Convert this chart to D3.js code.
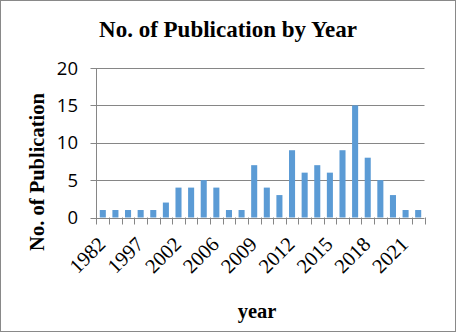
<!DOCTYPE html>
<html>
<head>
<meta charset="utf-8">
<script src="https://cdn.jsdelivr.net/npm/d3@7"></script>
<style>
  body { margin: 0; background: #fff; }
</style>
</head>
<body>
<div id="chart"></div>
<script>
let w = 456;
let h = 333;

// data
const years = ["1982", "1987", "1993", "1997", "1999", "2000", "2002", "2003", "2005", "2006",
  "2007", "2008", "2009", "2010", "2011", "2012", "2013", "2014", "2015", "2016",
  "2017", "2018", "2019", "2020", "2021", "2022"];
const counts = [1, 1, 1, 1, 1, 2, 4, 4, 5, 4, 1, 1, 7, 4, 3, 9, 6, 7, 6, 9, 15, 8, 5, 3, 1, 1];
const yTicks = [0, 5, 10, 15, 20];
const shownYears = ["1982", "1997", "2002", "2006", "2009", "2012", "2015", "2018", "2021"];

const margin = { left: 96.5, right: 424.5, top: 68, bottom: 217.5 };

var svg = d3.select("#chart").append("svg").attr("width", w).attr("height", h);

// chart border
svg.append("rect")
  .attr("x", 0.5).attr("y", 0.5)
  .attr("width", w - 1).attr("height", 331)
  .attr("fill", "#fff")
  .attr("stroke", "#898989");

var x = d3.scaleBand().domain(years).range([margin.left, margin.right]).paddingInner(0.52).paddingOuter(0.26);
var y = d3.scaleLinear().domain([0, 20]).range([margin.bottom, margin.top]);

// gridlines
svg.append("g")
  .selectAll("line")
  .data(yTicks)
  .enter()
  .append("line")
  .attr("x1", margin.left - 6)
  .attr("x2", margin.right)
  .attr("y1", d => Math.round(y(d)) + 0.5)
  .attr("y2", d => Math.round(y(d)) + 0.5)
  .attr("stroke", "#868686")
  .attr("stroke-width", 1);

// bars
svg.append("g")
  .selectAll("rect")
  .data(counts)
  .enter()
  .append("rect")
  .attr("x", (d, i) => x(years[i]))
  .attr("width", x.bandwidth())
  .attr("y", d => y(d))
  .attr("height", d => y(0) - y(d))
  .attr("fill", "#5B9BD5");

// y axis line
svg.append("line")
  .attr("x1", margin.left).attr("x2", margin.left)
  .attr("y1", margin.top).attr("y2", margin.bottom + 7)
  .attr("stroke", "#868686");

// x tick marks between categories
const step = x.step();
svg.append("g")
  .selectAll("line")
  .data(years.slice(1).concat(["end"]))
  .enter()
  .append("line")
  .attr("x1", (d, i) => Math.round(margin.left + step * (i + 1)) + 0.5)
  .attr("x2", (d, i) => Math.round(margin.left + step * (i + 1)) + 0.5)
  .attr("y1", margin.bottom)
  .attr("y2", margin.bottom + 7)
  .attr("stroke", "#868686");

// y tick labels
svg.append("g")
  .selectAll("text")
  .data(yTicks)
  .enter()
  .append("text")
  .attr("x", 78)
  .attr("y", d => y(d) + 6.5)
  .attr("text-anchor", "end")
  .attr("font-family", "'Open Sans', 'Liberation Sans', sans-serif")
  .attr("font-size", 18.5)
  .attr("fill", "#000")
  .text(d => d);

// x tick labels, rotated
svg.append("g")
  .selectAll("text")
  .data(shownYears)
  .enter()
  .append("text")
  .attr("transform", d => "translate(" + (x(d) + x.bandwidth() / 2 + 4) + "," + (margin.bottom + 28) + ") rotate(-45)")
  .attr("text-anchor", "end")
  .attr("font-family", "'Liberation Serif', 'Times New Roman', serif")
  .attr("font-size", 20.5)
  .attr("fill", "#000")
  .text(d => d);

// title
svg.append("text")
  .attr("x", 228)
  .attr("y", 36.5)
  .attr("text-anchor", "middle")
  .attr("font-family", "'Liberation Serif', 'Times New Roman', serif")
  .attr("font-weight", "bold")
  .attr("font-size", 23)
  .text("No. of Publication by Year");

// axis titles
svg.append("text")
  .attr("transform", "translate(44,172) rotate(-90)")
  .attr("text-anchor", "middle")
  .attr("font-family", "'Liberation Serif', 'Times New Roman', serif")
  .attr("font-weight", "bold")
  .attr("font-size", 20.5)
  .text("No. of Publication");

svg.append("text")
  .attr("x", 257)
  .attr("y", 318)
  .attr("text-anchor", "middle")
  .attr("font-family", "'Liberation Serif', 'Times New Roman', serif")
  .attr("font-weight", "bold")
  .attr("font-size", 20.5)
  .text("year");
</script>
</body>
</html>
